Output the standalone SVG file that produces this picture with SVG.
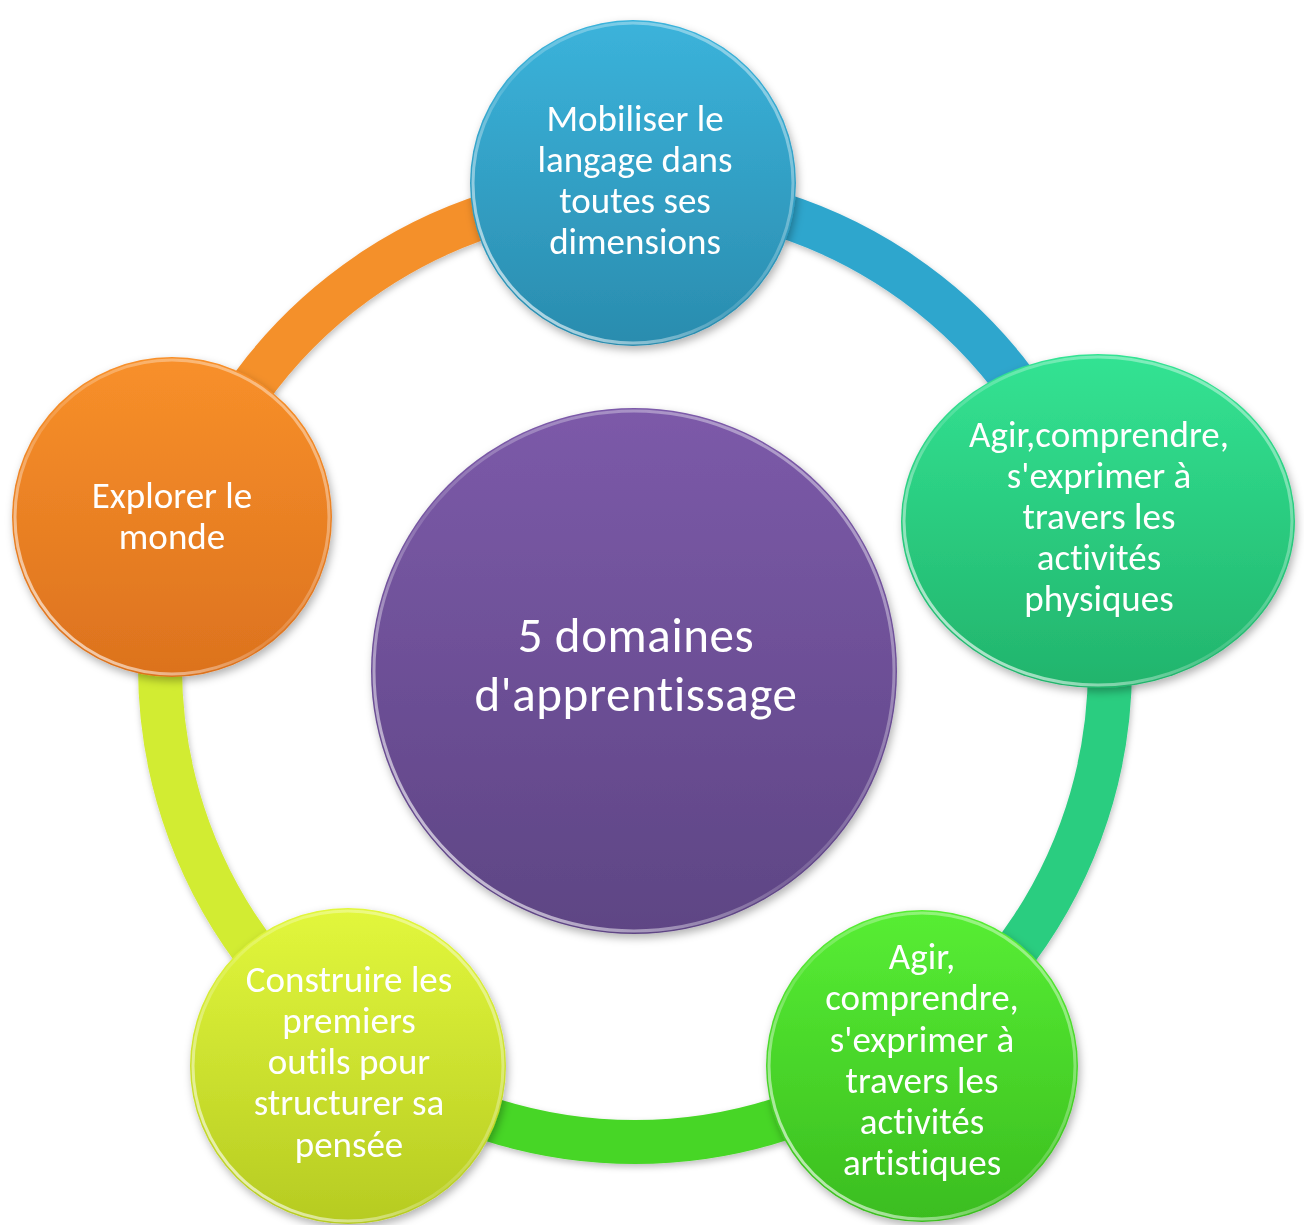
<svg xmlns="http://www.w3.org/2000/svg" width="1304" height="1225" viewBox="0 0 1304 1225">
<style>
  .lbl { font-family: Carlito, Lato, "Open Sans", sans-serif; fill: #ffffff; text-anchor: middle; font-variant-ligatures: none; font-feature-settings: "liga" 0, "clig" 0; }
  .sm { font-size: 37px; }
  .lg { font-size: 49px; letter-spacing: 0.6px; }
  .arc { fill: none; stroke-width: 44; stroke-linecap: butt; }
  .rim { fill: none; stroke: url(#rim); stroke-width: 3; }
</style>
<defs>
  <linearGradient id="gBlue" x1="0" y1="0" x2="0" y2="1"><stop offset="0" stop-color="#3bb3db"/><stop offset="1" stop-color="#2a8cae"/></linearGradient>
  <linearGradient id="gTeal" x1="0" y1="0" x2="0" y2="1"><stop offset="0" stop-color="#33e393"/><stop offset="1" stop-color="#22b46c"/></linearGradient>
  <linearGradient id="gGreen" x1="0" y1="0" x2="0" y2="1"><stop offset="0" stop-color="#57ee34"/><stop offset="1" stop-color="#3bbd1f"/></linearGradient>
  <linearGradient id="gYellow" x1="0" y1="0" x2="0" y2="1"><stop offset="0" stop-color="#e2f73c"/><stop offset="1" stop-color="#b6cb22"/></linearGradient>
  <linearGradient id="gOrange" x1="0" y1="0" x2="0" y2="1"><stop offset="0" stop-color="#f8902a"/><stop offset="1" stop-color="#dc721e"/></linearGradient>
  <linearGradient id="gPurple" x1="0" y1="0" x2="0" y2="1"><stop offset="0" stop-color="#7c5aa9"/><stop offset="1" stop-color="#5e4584"/></linearGradient>
  <linearGradient id="rim" x1="0" y1="1" x2="1" y2="0"><stop offset="0" stop-color="#ffffff" stop-opacity="0.85"/><stop offset="0.45" stop-color="#ffffff" stop-opacity="0.15"/><stop offset="1" stop-color="#ffffff" stop-opacity="0.5"/></linearGradient>
  <filter id="sh" x="-10%" y="-10%" width="120%" height="125%"><feDropShadow dx="2" dy="4" stdDeviation="4" flood-color="#000" flood-opacity="0.3"/></filter>
  <filter id="ash" x="-10%" y="-10%" width="120%" height="125%"><feDropShadow dx="1" dy="3" stdDeviation="3" flood-color="#000" flood-opacity="0.25"/></filter>
</defs>

<g id="connectors" filter="url(#ash)">
  <path class="arc" stroke="#2fa6cd" d="M 635 192 A 475 475 0 0 1 1086.75 520.22"/>
  <path class="arc" stroke="#29cd80" d="M 1086.75 520.22 A 475 475 0 0 1 914.2 1051.3"/>
  <path class="arc" stroke="#46d626" d="M 914.2 1051.3 A 475 475 0 0 1 355.8 1051.3"/>
  <path class="arc" stroke="#d2ec30" d="M 355.8 1051.3 A 475 475 0 0 1 183.25 520.22"/>
  <path class="arc" stroke="#f4902c" d="M 183.25 520.22 A 475 475 0 0 1 635 192"/>
</g>

<g id="node-center" filter="url(#sh)">
  <circle cx="634" cy="671" r="263" fill="url(#gPurple)"/>
  <circle cx="634" cy="671" r="260" class="rim"/>
  <text class="lbl lg" x="636" y="652">5 domaines</text>
  <text class="lbl lg" x="636" y="711">d'apprentissage</text>
</g>

<g id="node-langage" filter="url(#sh)">
  <circle cx="633" cy="183" r="163" fill="url(#gBlue)"/>
  <circle cx="633" cy="183" r="160" class="rim"/>
  <text class="lbl sm" x="635" y="131">Mobiliser le</text>
  <text class="lbl sm" x="635" y="172">langage dans</text>
  <text class="lbl sm" x="635" y="213">toutes ses</text>
  <text class="lbl sm" x="635" y="254">dimensions</text>
</g>

<g id="node-physiques" filter="url(#sh)">
  <ellipse cx="1098" cy="521" rx="197" ry="167" fill="url(#gTeal)"/>
  <ellipse cx="1098" cy="521" rx="194" ry="164" class="rim"/>
  <text class="lbl sm" x="1099" y="447">Agir,comprendre,</text>
  <text class="lbl sm" x="1099" y="488">s'exprimer à</text>
  <text class="lbl sm" x="1099" y="529">travers les</text>
  <text class="lbl sm" x="1099" y="570">activités</text>
  <text class="lbl sm" x="1099" y="611">physiques</text>
</g>

<g id="node-artistiques" filter="url(#sh)">
  <circle cx="922" cy="1066" r="156" fill="url(#gGreen)"/>
  <circle cx="922" cy="1066" r="153" class="rim"/>
  <text class="lbl sm" x="922" y="969">Agir,</text>
  <text class="lbl sm" x="922" y="1010">comprendre,</text>
  <text class="lbl sm" x="922" y="1052">s'exprimer à</text>
  <text class="lbl sm" x="922" y="1093">travers les</text>
  <text class="lbl sm" x="922" y="1134">activités</text>
  <text class="lbl sm" x="922" y="1175">artistiques</text>
</g>

<g id="node-construire" filter="url(#sh)">
  <circle cx="348" cy="1066" r="158" fill="url(#gYellow)"/>
  <circle cx="348" cy="1066" r="155" class="rim"/>
  <text class="lbl sm" x="349" y="992">Construire les</text>
  <text class="lbl sm" x="349" y="1033">premiers</text>
  <text class="lbl sm" x="349" y="1074">outils pour</text>
  <text class="lbl sm" x="349" y="1115">structurer sa</text>
  <text class="lbl sm" x="349" y="1157">pensée</text>
</g>

<g id="node-explorer" filter="url(#sh)">
  <circle cx="172" cy="517" r="160" fill="url(#gOrange)"/>
  <circle cx="172" cy="517" r="157" class="rim"/>
  <text class="lbl sm" x="172" y="508">Explorer le</text>
  <text class="lbl sm" x="172" y="549">monde</text>
</g>
</svg>
